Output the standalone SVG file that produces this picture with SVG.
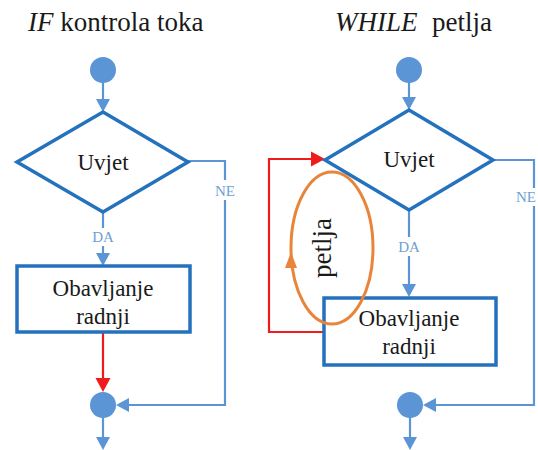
<svg xmlns="http://www.w3.org/2000/svg" width="538" height="450" viewBox="0 0 538 450">
  <defs>
    <!-- arrowheads drawn pointing down, tip at the origin -->
    <path id="head-blue" d="M-7,-13 L7,-13 L0,0 z" fill="#5b95d6"/>
    <path id="head-red" d="M-7.5,-14 L7.5,-14 L0,0 z" fill="#ee1c1c"/>
  </defs>

  <!-- titles -->
  <text x="28" y="31" font-family="Liberation Serif, Times New Roman, serif" font-size="27" fill="#1a1a1a"><tspan font-style="italic">IF</tspan> kontrola toka</text>
  <text x="335" y="31" font-family="Liberation Serif, Times New Roman, serif" font-size="27" fill="#1a1a1a"><tspan font-style="italic">WHILE</tspan><tspan x="432">petlja</tspan></text>

  <!-- connectors -->
  <g id="connectors" fill="none" stroke-width="2.2">
    <g stroke="#5b95d6">
      <line x1="103" y1="82" x2="103" y2="100"/>
      <line x1="103" y1="212" x2="103" y2="228"/>
      <line x1="103" y1="246" x2="103" y2="255"/>
      <polyline points="188,161 225,161 225,180"/>
      <polyline points="225,200 225,405 128,405"/>
      <line x1="103" y1="417" x2="103" y2="440"/>
      <line x1="409" y1="82" x2="409" y2="98"/>
      <line x1="409" y1="210" x2="409" y2="237"/>
      <line x1="409" y1="256" x2="409" y2="286"/>
      <polyline points="493,160 534,160 534,188"/>
      <polyline points="534,206 534,405 435,405"/>
      <line x1="410" y1="417" x2="410" y2="440"/>
    </g>
    <g stroke="#ee1c1c">
      <line x1="103" y1="332" x2="103" y2="380"/>
      <polyline points="324,332 269,332 269,159 312,159"/>
    </g>
    <use href="#head-blue" transform="translate(103,112)"/>
    <use href="#head-blue" transform="translate(103,266)"/>
    <use href="#head-blue" transform="translate(116,405) rotate(90)"/>
    <use href="#head-blue" transform="translate(103,450)"/>
    <use href="#head-blue" transform="translate(409,110)"/>
    <use href="#head-blue" transform="translate(409,297)"/>
    <use href="#head-blue" transform="translate(423,405) rotate(90)"/>
    <use href="#head-blue" transform="translate(410,450)"/>
    <use href="#head-red" transform="translate(103,392)"/>
    <use href="#head-red" transform="translate(325,159) rotate(-90)"/>
  </g>

  <!-- IF nodes -->
  <g id="if-start"><circle cx="103" cy="70" r="13" fill="#5b95d6"/></g>
  <g id="if-cond">
    <polygon points="103,112 188,162 103,212 17,162" fill="#fff" stroke="#2472be" stroke-width="3.5"/>
    <text x="103" y="170" font-family="Liberation Serif, Times New Roman, serif" font-size="23" fill="#1a1a1a" text-anchor="middle">Uvjet</text>
  </g>
  <g id="if-no"><text x="225" y="196" font-family="Liberation Serif, Times New Roman, serif" font-size="15" fill="#6f9fd3" text-anchor="middle">NE</text></g>
  <g id="if-yes"><text x="103" y="242" font-family="Liberation Serif, Times New Roman, serif" font-size="15" fill="#6f9fd3" text-anchor="middle">DA</text></g>
  <g id="if-work">
    <rect x="17" y="266" width="173" height="66" fill="#fff" stroke="#2472be" stroke-width="3.5"/>
    <text x="103" y="296" font-family="Liberation Serif, Times New Roman, serif" font-size="23" fill="#1a1a1a" text-anchor="middle">Obavljanje</text>
    <text x="103" y="324" font-family="Liberation Serif, Times New Roman, serif" font-size="23" fill="#1a1a1a" text-anchor="middle">radnji</text>
  </g>
  <g id="if-end"><circle cx="103" cy="405" r="13" fill="#5b95d6"/></g>

  <!-- WHILE nodes -->
  <g id="while-start"><circle cx="409" cy="70" r="13" fill="#5b95d6"/></g>
  <g id="while-cond">
    <polygon points="409,110 493,160 409,210 325,160" fill="#fff" stroke="#2472be" stroke-width="3.5"/>
    <text x="409" y="167" font-family="Liberation Serif, Times New Roman, serif" font-size="23" fill="#1a1a1a" text-anchor="middle">Uvjet</text>
  </g>
  <g id="while-no"><text x="536" y="202" font-family="Liberation Serif, Times New Roman, serif" font-size="15" fill="#6f9fd3" text-anchor="end">NE</text></g>
  <g id="while-yes"><text x="409" y="252" font-family="Liberation Serif, Times New Roman, serif" font-size="15" fill="#6f9fd3" text-anchor="middle">DA</text></g>
  <g id="while-work">
    <rect x="324" y="298" width="172" height="67" fill="#fff" stroke="#2472be" stroke-width="3.5"/>
    <text x="409" y="326" font-family="Liberation Serif, Times New Roman, serif" font-size="23" fill="#1a1a1a" text-anchor="middle">Obavljanje</text>
    <text x="409" y="354" font-family="Liberation Serif, Times New Roman, serif" font-size="23" fill="#1a1a1a" text-anchor="middle">radnji</text>
  </g>
  <g id="while-end"><circle cx="410" cy="405" r="13" fill="#5b95d6"/></g>

  <!-- loop annotation -->
  <g id="loop">
    <ellipse cx="332" cy="248" rx="41" ry="76" fill="none" stroke="#e8853a" stroke-width="3"/>
    <path d="M285,268 L291,252 L297,268 z" fill="#e8853a"/>
    <text transform="translate(331,248) rotate(-90)" font-family="Liberation Serif, Times New Roman, serif" font-size="27" fill="#1a1a1a" text-anchor="middle">petlja</text>
  </g>
</svg>
